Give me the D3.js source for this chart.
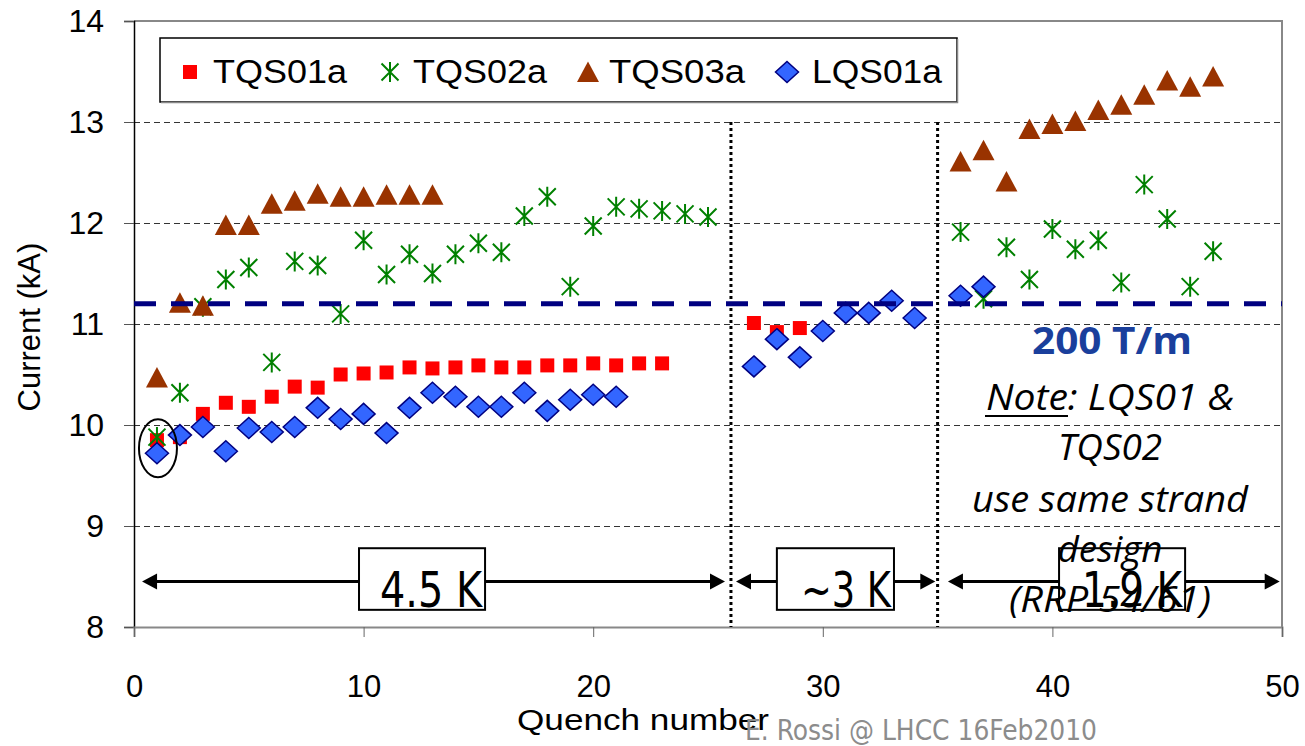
<!DOCTYPE html>
<html>
<head>
<meta charset="utf-8">
<script src="https://cdn.jsdelivr.net/npm/d3@7"></script>
<style>
  body { margin: 0; background: #fff; }
  svg { display: block; }
</style>
</head>
<body>
<svg id="chart"></svg>
<script>
// Quench data (current in kA).
const seriesNames = ['TQS01a', 'TQS02a', 'TQS03a', 'LQS01a'];

const tqs01aQuench = [1, 2, 3, 4, 5, 6, 7, 8, 9, 10, 11, 12, 13, 14, 15, 16, 17, 18, 19, 20, 21, 22, 23, 27, 28, 29];
const tqs01aCurrent = [9.85, 9.88, 10.11, 10.22, 10.18, 10.28, 10.38, 10.37, 10.50, 10.51, 10.52, 10.57, 10.56,
  10.57, 10.59, 10.57, 10.57, 10.59, 10.59, 10.61, 10.59, 10.61, 10.61, 11.01, 10.92, 10.96];

const tqs02aQuench = [1, 2, 3, 4, 5, 6, 7, 8, 9, 10, 11, 12, 13, 14, 15, 16, 17, 18, 19, 20, 21, 22, 23, 24, 25,
  36, 37, 38, 39, 40, 41, 42, 43, 44, 45, 46, 47];
const tqs02aCurrent = [9.88, 10.32, 11.17, 11.44, 11.56, 10.62, 11.62, 11.58, 11.10, 11.83, 11.49, 11.69, 11.50,
  11.69, 11.80, 11.71, 12.07, 12.26, 11.37, 11.97, 12.16, 12.14, 12.12, 12.09, 12.06,
  11.91, 11.25, 11.76, 11.44, 11.94, 11.74, 11.83, 11.41, 12.38, 12.04, 11.37, 11.72];

const tqs03aQuench = [1, 2, 3, 4, 5, 6, 7, 8, 9, 10, 11, 12, 13, 36, 37, 38, 39, 40, 41, 42, 43, 44, 45, 46, 47];
const tqs03aCurrent = [10.47, 11.21, 11.18, 11.98, 11.98, 12.19, 12.22, 12.29, 12.26, 12.26, 12.28, 12.28, 12.28,
  12.61, 12.72, 12.41, 12.93, 12.98, 13.01, 13.12, 13.17, 13.27, 13.41, 13.35, 13.45];

const lqs01aQuench = [1, 2, 3, 4, 5, 6, 7, 8, 9, 10, 11, 12, 13, 14, 15, 16, 17, 18, 19, 20, 21,
  27, 28, 29, 30, 31, 32, 33, 34, 36, 37];
const lqs01aCurrent = [9.72, 9.90, 9.98, 9.74, 9.97, 9.93, 9.98, 10.17, 10.06, 10.11, 9.92, 10.17, 10.32,
  10.28, 10.18, 10.18, 10.32, 10.14, 10.25, 10.30, 10.28,
  10.58, 10.85, 10.67, 10.93, 11.11, 11.11, 11.23, 11.06, 11.28, 11.37];

const xTicks = [0, 10, 20, 30, 40, 50];
const yTicks = [8, 9, 10, 11, 12, 13, 14];
const gridValues = [9, 10, 11, 12, 13];
const targetCurrent = 11.2;       // 200 T/m line
const phaseBreaks = [26, 35];     // quench number where temperature changes
const phaseLabels = ['4.5 K', '~3 K', '1.9 K'];
const noteLines = ['Note: LQS01 &', 'TQS02', 'use same strand', 'design', '(RRP 54/61)'];

const width = 1305, height = 746;
const svg = d3.select('#chart').attr('width', width).attr('height', height);

const x = d3.scaleLinear().domain([0, 50]).range([134, 1282]);
const y = d3.scaleLinear().domain([8, 14]).range([627, 21]);

const arial = "'Liberation Sans', Arimo, Arial, sans-serif";
const narrow = "'Liberation Sans Narrow', 'DejaVu Sans Condensed', 'Liberation Sans', sans-serif";
const calibri = "'Open Sans', 'Noto Sans', sans-serif";

// Marker shapes.
const shapes = {
  TQS01a: 'M-7,-7H7V7H-7Z',
  TQS02a: 'M0,-10V10M-8.5,-8.5L8.5,8.5M-8.5,8.5L8.5,-8.5',
  TQS03a: 'M0,-10.5L11,10H-11Z',
  LQS01a: 'M0,-10.5L11.5,0L0,10.5L-11.5,0Z'
};
const styles = {
  TQS01a: {fill: '#ff0000', stroke: 'none', sw: 0},
  TQS02a: {fill: 'none', stroke: '#008000', sw: 2},
  TQS03a: {fill: '#993300', stroke: 'none', sw: 0},
  LQS01a: {fill: '#3366ff', stroke: '#000080', sw: 1.5}
};
const series = [
  {name: 'TQS01a', q: tqs01aQuench, v: tqs01aCurrent},
  {name: 'TQS02a', q: tqs02aQuench, v: tqs02aCurrent},
  {name: 'TQS03a', q: tqs03aQuench, v: tqs03aCurrent},
  {name: 'LQS01a', q: lqs01aQuench, v: lqs01aCurrent}
];

// Grid lines.
svg.append('g').selectAll('line').data(gridValues).join('line')
  .attr('x1', x(0)).attr('x2', x(50))
  .attr('y1', d => Math.round(y(d)) + 0.5).attr('y2', d => Math.round(y(d)) + 0.5)
  .attr('stroke', '#333').attr('stroke-width', 1).attr('stroke-dasharray', '6,4');

// Plot border (top & right).
svg.append('path')
  .attr('d', `M${x(0)},${y(14)}H${x(50)}V${y(8)}`)
  .attr('fill', 'none').attr('stroke', '#888').attr('stroke-width', 2);

// Axes.
const yAxis = svg.append('g').attr('transform', `translate(${x(0)},0)`)
  .call(d3.axisLeft(y).tickValues(yTicks).tickSize(10).tickPadding(20).tickFormat(d3.format('d')));
yAxis.attr('font-family', null);
yAxis.select('.domain').attr('stroke', '#000').attr('stroke-width', 1.5);
yAxis.selectAll('.tick line').attr('stroke', '#555');
yAxis.selectAll('text').attr('font-family', arial).attr('font-size', 32).attr('fill', '#000')
  .attr('dy', '0.34em');

const xAxis = svg.append('g').attr('transform', `translate(0,${y(8)})`)
  .call(d3.axisBottom(x).tickValues(xTicks).tickSize(10).tickPadding(44).tickFormat(d3.format('d')));
xAxis.attr('font-family', null);
xAxis.select('.domain').attr('stroke', '#888').attr('stroke-width', 2);
xAxis.selectAll('.tick line').attr('stroke', '#666');
xAxis.selectAll('text').attr('font-family', arial).attr('font-size', 31).attr('fill', '#000').attr('dy', '0.5em');

svg.append('text')
  .attr('transform', `translate(40,${y(10.97)}) rotate(-90)`)
  .attr('text-anchor', 'middle')
  .attr('font-family', arial).attr('font-size', 31)
  .text('Current (kA)');

svg.append('text')
  .attr('x', 517).attr('y', 730)
  .attr('font-family', arial).attr('font-size', 29)
  .attr('textLength', 252).attr('lengthAdjust', 'spacingAndGlyphs')
  .text('Quench number');

// Phase dividers.
svg.append('g').selectAll('line').data(phaseBreaks).join('line')
  .attr('x1', d => x(d)).attr('x2', d => x(d))
  .attr('y1', y(13)).attr('y2', y(8))
  .attr('stroke', '#000').attr('stroke-width', 3).attr('stroke-dasharray', '3,3');

// Phase arrows.
const arrowY = y(8.45);
const arrowSpans = [[0.35, 25.74], [26.22, 34.9], [35.45, 49.9]];
const arrows = svg.append('g');
arrowSpans.forEach(([a, b]) => {
  const x0 = x(a), x1 = x(b);
  arrows.append('line').attr('x1', x0 + 10).attr('x2', x1 - 10)
    .attr('y1', arrowY).attr('y2', arrowY).attr('stroke', '#000').attr('stroke-width', 3);
  arrows.append('path').attr('d', `M${x0},${arrowY}L${x0 + 15},${arrowY - 8}V${arrowY + 8}Z`).attr('fill', '#000');
  arrows.append('path').attr('d', `M${x1},${arrowY}L${x1 - 15},${arrowY - 8}V${arrowY + 8}Z`).attr('fill', '#000');
});

// Phase label boxes.
const boxSpans = [[9.8, 15.29], [28.0, 33.1], [40.29, 45.78]];
const textWidths = [102, 90, 100];
boxSpans.forEach(([a, b], i) => {
  svg.append('rect')
    .attr('x', x(a)).attr('y', y(8.78))
    .attr('width', x(b) - x(a)).attr('height', y(8.17) - y(8.78))
    .attr('fill', '#fff').attr('stroke', '#000').attr('stroke-width', 2);
  svg.append('text')
    .attr('x', x(b) - 3).attr('y', y(8.17) - 3)
    .attr('text-anchor', 'end')
    .attr('font-family', narrow).attr('font-size', 50)
    .attr('textLength', textWidths[i]).attr('lengthAdjust', 'spacingAndGlyphs')
    .text(phaseLabels[i]);
});

// Markers.
series.forEach(s => {
  const st = styles[s.name];
  svg.append('g').selectAll('path').data(s.q.map((q, i) => [q, s.v[i]])).join('path')
    .attr('transform', d => `translate(${x(d[0])},${y(d[1])})`)
    .attr('d', shapes[s.name])
    .attr('fill', st.fill).attr('stroke', st.stroke).attr('stroke-width', st.sw);
});

// 200 T/m target line.
svg.append('line')
  .attr('x1', x(0)).attr('x2', x(50))
  .attr('y1', y(targetCurrent)).attr('y2', y(targetCurrent))
  .attr('stroke', '#000080').attr('stroke-width', 5).attr('stroke-dasharray', '22,15');

// Circle around first quench.
svg.append('ellipse')
  .attr('cx', x(1) + 1).attr('cy', y(9.77))
  .attr('rx', 19).attr('ry', 29)
  .attr('fill', 'none').attr('stroke', '#000').attr('stroke-width', 2);

// Notes on the right.
svg.append('text')
  .attr('x', 1112).attr('y', 354).attr('text-anchor', 'middle')
  .attr('font-family', calibri).attr('font-weight', 'bold').attr('font-size', 38)
  .attr('fill', '#1a3f9c')
  .attr('textLength', 160).attr('lengthAdjust', 'spacingAndGlyphs')
  .text('200 T/m');

const noteY = [410, 460, 512, 562, 612];
const noteW = [248, 104, 276, 105, 202];
noteLines.forEach((t, i) => {
  const el = svg.append('text')
    .attr('x', 1110).attr('y', noteY[i]).attr('text-anchor', 'middle')
    .attr('font-family', calibri).attr('font-style', 'italic').attr('font-size', 37)
    .attr('textLength', noteW[i]).attr('lengthAdjust', 'spacingAndGlyphs');
  if (i === 0) {
    el.append('tspan').text('Note');
    el.append('tspan').text(': LQS01 &');
  } else {
    el.text(t);
  }
});
svg.append('line').attr('x1', 985).attr('x2', 1068).attr('y1', 416).attr('y2', 416)
  .attr('stroke', '#000').attr('stroke-width', 2);

// Legend.
const legend = svg.append('g');
legend.append('rect').attr('x', 160).attr('y', 38).attr('width', 797).attr('height', 64)
  .attr('fill', '#fff').attr('stroke', '#000').attr('stroke-width', 1.5);
legend.append('path').attr('d', 'M161,102.5H957.5V39').attr('fill', 'none').attr('stroke', '#888').attr('stroke-width', 1.5);
const legendMarkX = [190, 390, 588, 787];
const legendTextX = [213, 413, 609, 812];
const legendTextW = [134, 134, 136, 130];
seriesNames.forEach((n, i) => {
  const st = styles[n];
  legend.append('path')
    .attr('transform', `translate(${legendMarkX[i]},72)`)
    .attr('d', shapes[n])
    .attr('fill', st.fill).attr('stroke', st.stroke).attr('stroke-width', st.sw);
  legend.append('text')
    .attr('x', legendTextX[i]).attr('y', 83)
    .attr('font-family', arial).attr('font-size', 34)
    .attr('textLength', legendTextW[i]).attr('lengthAdjust', 'spacingAndGlyphs')
    .text(n);
});

// Footer credit.
svg.append('text')
  .attr('x', 745).attr('y', 740)
  .attr('font-family', narrow).attr('font-size', 28).attr('fill', '#8c8c8c')
  .attr('textLength', 352).attr('lengthAdjust', 'spacingAndGlyphs')
  .text('E. Rossi @ LHCC 16Feb2010');
</script>
</body>
</html>
